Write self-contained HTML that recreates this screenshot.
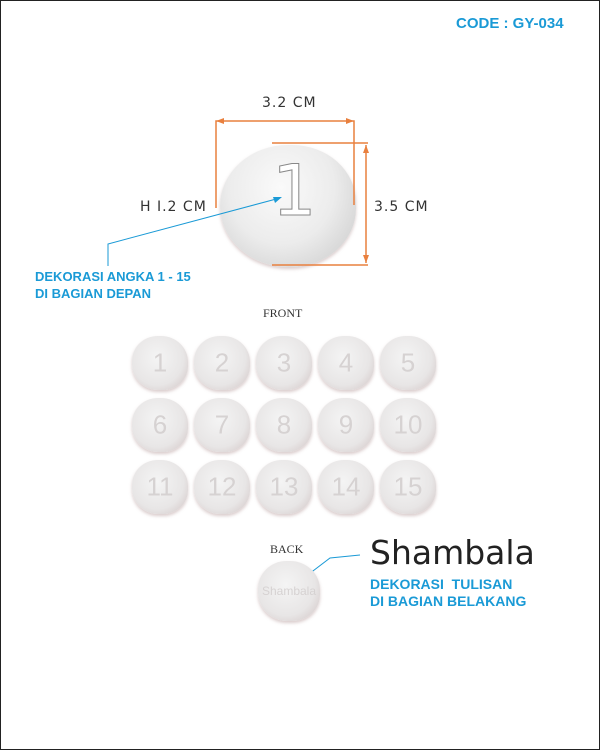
<!DOCTYPE html>
<html><head><meta charset="utf-8"><style>
body{margin:0;width:600px;height:750px;background:#fff;font-family:"Liberation Sans",sans-serif;overflow:hidden}
.frame{position:absolute;left:0;top:0;width:598px;height:748px;border:1px solid #222}
.t{position:absolute;white-space:nowrap}
.blue{color:#1a9ad6;font-weight:bold}
.bead{position:absolute;border-radius:46% 48% 44% 47%;background:radial-gradient(ellipse at 45% 40%,#f4f4f4 0%,#e8e6e6 60%,#d6cccc 88%,#c4b0b0 100%);box-shadow:0 2px 3px rgba(150,110,110,.35)}
.bead span{position:absolute;left:0;right:0;top:50%;transform:translateY(-50%);text-align:center;color:#d6d2d2;font-size:26px;font-family:"Liberation Sans",sans-serif}
.dim{font-family:"DejaVu Sans",sans-serif;font-size:14px;color:#333;letter-spacing:1px}
</style></head><body>
<div class="frame"></div>
<div class="t blue" style="left:456px;top:15px;font-size:15px">CODE : GY-034</div>

<div class="bead" style="left:220px;top:145px;width:136px;height:122px;border-radius:50% 47% 48% 50%;background:radial-gradient(ellipse at 45% 35%,#fafafa 0%,#ececec 50%,#d2d2d2 85%,#b5b5b5 100%)"></div>
<div class="t" style="left:272px;top:150px;font-size:70px;color:#fff;-webkit-text-stroke:1px #888;font-family:'DejaVu Sans',sans-serif">1</div>

<svg style="position:absolute;left:0;top:0" width="600" height="750">
<g stroke="#e9803e" stroke-width="1.5" fill="none">
<polyline points="216,208 216,121 354,121 354,205"/>
<line x1="272" y1="143" x2="368" y2="143"/><line x1="272" y1="265" x2="368" y2="265"/>
<line x1="366" y1="145" x2="366" y2="263"/>
</g>
<g fill="#e9803e"><polygon points="216,121 224,118 224,124"/><polygon points="354,121 346,118 346,124"/>
<polygon points="366,145 363,153 369,153"/><polygon points="366,263 363,255 369,255"/></g>
<g stroke="#1a9ad6" stroke-width="1" fill="none">
<polyline points="108,266 108,244 280,198"/><polyline points="288,590 330,558 360,555"/></g>
<g fill="#1a9ad6"><polygon points="282,197 273,197 275,203"/><polygon points="287,591 290,583 294,588"/></g>
</svg>
<div class="t dim" style="left:262px;top:95px">3.2 CM</div>
<div class="t dim" style="left:374px;top:199px">3.5 CM</div>
<div class="t dim" style="left:140px;top:199px">H I.2 CM</div>
<div class="t blue" style="left:35px;top:268px;font-size:13px;line-height:17px">DEKORASI ANGKA 1 - 15<br>DI BAGIAN DEPAN</div>

<div class="t" style="left:263px;top:306px;font-family:'Liberation Serif',serif;font-size:12px;color:#333">FRONT</div>
<div id="grid"></div>

<div class="t" style="left:270px;top:542px;font-family:'Liberation Serif',serif;font-size:12px;color:#333">BACK</div>
<div class="bead" style="left:258px;top:561px;width:62px;height:60px"><span style="font-size:12px">Shambala</span></div>
<div class="t" style="left:370px;top:533px;font-size:33px;color:#222;font-family:'DejaVu Sans',sans-serif">Shambala</div>
<div class="t blue" style="left:370px;top:576px;font-size:14px;line-height:17px">DEKORASI &nbsp;TULISAN<br>DI BAGIAN BELAKANG</div>
<script>
var g=document.getElementById('grid');
for(var i=0;i<15;i++){
 var d=document.createElement('div');
 d.className='bead';
 
 
 var c=i%5,r=Math.floor(i/5);
 d.style.left=(132+c*62)+'px';d.style.top=(336+r*62)+'px';
 d.style.width='56px';d.style.height='54px';
 d.innerHTML='<span>'+(i+1)+'</span>';
 g.appendChild(d);
}
</script>
</body></html>
